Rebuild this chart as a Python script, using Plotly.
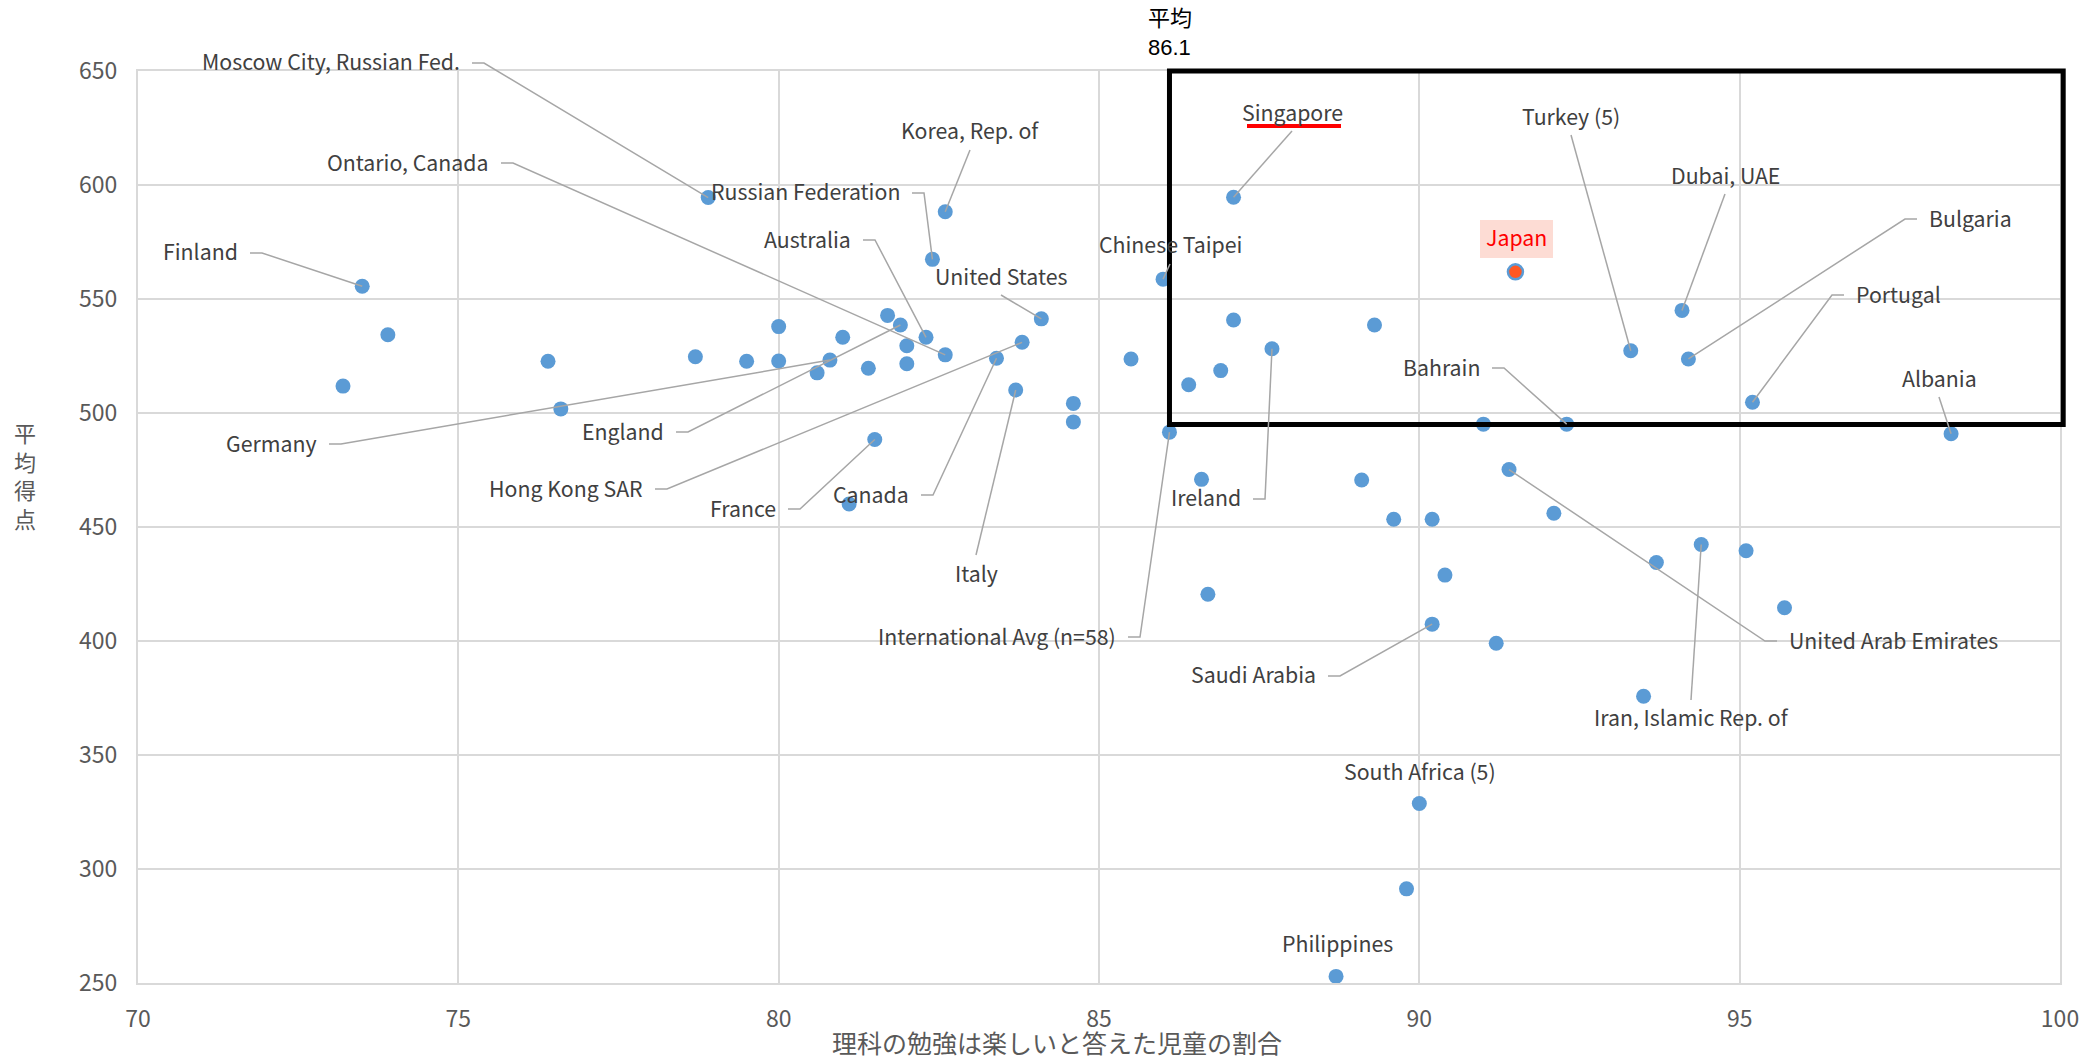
import plotly.graph_objects as go

# ---- data -------------------------------------------------------------
# share of pupils who enjoy science (%) and mean science score
enjoy_pct = [73.2, 73.5, 73.9, 76.4, 76.6, 78.7, 78.9, 79.5, 80.0, 80.0,
             80.6, 80.8, 81.0, 81.1, 81.4, 81.5, 81.7, 81.9, 82.0, 82.0,
             82.3, 82.4, 82.6, 82.6, 83.4, 83.7, 83.8, 84.1, 84.6, 84.6,
             85.5, 86.0, 86.1, 86.4, 86.6, 86.7, 86.9, 87.1, 87.1, 87.7,
             88.7, 89.1, 89.3, 89.6, 89.8, 90.0, 90.2, 90.2, 90.4, 91.0,
             91.2, 91.4, 91.5, 92.1, 92.3, 93.3, 93.5, 93.7, 94.1, 94.2,
             94.4, 95.1, 95.2, 95.7, 98.3]
mean_score = [511.8, 555.6, 534.3, 522.7, 501.8, 524.7, 594.5, 522.7, 537.9, 522.8,
              517.6, 523.2, 533.2, 460.1, 519.6, 488.4, 542.8, 538.6, 529.5, 521.6,
              533.2, 567.4, 588.3, 525.5, 524.0, 510.1, 531.0, 541.3, 504.2, 496.1,
              523.7, 558.7, 491.6, 512.4, 470.9, 420.5, 518.6, 594.6, 540.8, 528.2,
              252.9, 470.6, 538.6, 453.4, 291.3, 328.7, 453.4, 407.4, 428.9, 495.1,
              399.0, 475.2, 561.9, 456.0, 495.1, 527.3, 375.8, 434.4, 545.0, 523.7,
              442.3, 439.6, 504.7, 414.6, 490.9]
country = ["", "Finland", "", "", "", "", "Moscow City, Russian Fed.", "", "", "",
           "", "Germany", "", "", "", "France", "", "England", "", "",
           "Australia", "Russian Federation", "Korea, Rep. of", "Ontario, Canada", "Canada",
           "Italy", "Hong Kong SAR", "United States", "", "",
           "", "Chinese Taipei", "International Avg (n=58)", "", "", "", "", "Singapore", "", "Ireland",
           "Philippines", "", "", "", "", "South Africa (5)", "", "Saudi Arabia", "", "",
           "", "United Arab Emirates", "Japan", "", "Bahrain", "Turkey (5)", "", "", "Dubai, UAE", "Bulgaria",
           "Iran, Islamic Rep. of", "", "Portugal", "", "Albania"]

x_ticks = [70, 75, 80, 85, 90, 95, 100]
y_ticks = [250, 300, 350, 400, 450, 500, 550, 600, 650]
avg_enjoy = 86.1          # international average share
box_score = [495, 650]    # score band of the highlighted region
highlight = "Japan"

# ---- geometry ---------------------------------------------------------
W, H = 2100, 1059
PL, PT, PW, PH = 138, 71, 1922, 912
X0, X1, Y0, Y1 = x_ticks[0], x_ticks[-1], y_ticks[0], y_ticks[-1]


def to_px(x, y):
    return PL + (x - X0) / (X1 - X0) * PW, PT + (Y1 - y) / (Y1 - Y0) * PH


def paper(px, py):
    return (px - PL) / PW, (PT + PH - py) / PH


LABEL_FONT = "Noto Sans CJK JP, Noto Sans, sans-serif"
TEXT_COL = "#404040"
AXIS_COL = "#595959"
LEADER_COL = "#a6a6a6"

# label placement in page pixels: (x, y, anchor, leader)
#   anchor r/l/c = right edge / left edge / centre at x
#   leader "tick" = elbow leader, "up" = from below the label, "down" = from above
label_pos = {
    "Moscow City, Russian Fed.": (462, 63, "r", "tick"),
    "Ontario, Canada": (491, 163, "r", "tick"),
    "Finland": (240, 253, "r", "tick"),
    "Germany": (319, 444, "r", "tick"),
    "Russian Federation": (902, 193, "r", "tick"),
    "Australia": (853, 240, "r", "tick"),
    "England": (666, 432, "r", "tick"),
    "Hong Kong SAR": (645, 489, "r", "tick"),
    "France": (778, 509, "r", "tick"),
    "Canada": (911, 495, "r", "tick"),
    "International Avg (n=58)": (1118, 637, "r", "tick"),
    "Ireland": (1243, 499, "r", "tick"),
    "Bahrain": (1482, 368, "r", "tick"),
    "Saudi Arabia": (1318, 676, "r", "tick"),
    "Bulgaria": (1927, 219, "l", "tick"),
    "Portugal": (1854, 295, "l", "tick"),
    "United Arab Emirates": (1787, 641, "l", "tick"),
    "Korea, Rep. of": (970, 132, "c", "up"),
    "United States": (1001, 277, "c", "up"),
    "Singapore": (1292, 113, "c", "up"),
    "Turkey (5)": (1571, 117, "c", "up"),
    "Dubai, UAE": (1725, 176, "c", "up"),
    "Albania": (1939, 379, "c", "up"),
    "Chinese Taipei": (1170, 246, "c", "up"),
    "Italy": (976, 574, "c", "down"),
    "Iran, Islamic Rep. of": (1691, 719, "c", "down"),
    "South Africa (5)": (1420, 772, "c", None),
    "Philippines": (1337, 944, "c", None),
    "Japan": (1516, 239, "c", None),
}
TEXT_SHIFT = -2  # optical centring of the label text on its leader

# ---- markers ----------------------------------------------------------
fill = ["#ff5722" if c == highlight else "#5b9bd5" for c in country]
edge_w = [2.5 if c == highlight else 0 for c in country]

fig = go.Figure()
fig.add_trace(go.Scatter(
    x=enjoy_pct, y=mean_score, mode="markers",
    marker=dict(size=15, color=fill, line=dict(color="#5b9bd5", width=edge_w)),
    hovertext=country, showlegend=False, cliponaxis=False,
))

shapes = []
annotations = []

# background patch behind the highlighted label
hx, hy = label_pos[highlight][:2]
p0 = paper(hx - 36, hy + 19)
p1 = paper(hx + 37, hy - 19)
shapes.append(dict(type="rect", xref="paper", yref="paper",
                   x0=p0[0], y0=p0[1], x1=p1[0], y1=p1[1],
                   fillcolor="#fddcd4", line=dict(width=0), layer="above"))

# highlighted region
bx0, by0 = paper(*to_px(avg_enjoy, box_score[0]))
bx1, by1 = paper(*to_px(X1 + 0.05, box_score[1]))
shapes.append(dict(type="rect", xref="paper", yref="paper",
                   x0=bx0, x1=bx1, y0=by0, y1=by1,
                   line=dict(color="#000000", width=5), layer="above"))

# data labels with leader lines
anchor_map = {"r": "right", "l": "left", "c": "center"}
for name, (lx, ly, anc, leader) in label_pos.items():
    i = country.index(name)
    mx, my = to_px(enjoy_pct[i], mean_score[i])
    if leader == "tick":
        sgn = 1 if anc == "r" else -1
        pts = [(lx + sgn * 10, ly), (lx + sgn * 22, ly), (mx, my)]
    elif leader == "up":
        pts = [(lx, ly + 18), (mx, my)]
    elif leader == "down":
        pts = [(lx, ly - 19), (mx, my)]
    else:
        pts = None
    if pts:
        path = " ".join(("M" if k == 0 else "L") + " %.5f,%.5f" % paper(px, py)
                        for k, (px, py) in enumerate(pts))
        shapes.append(dict(type="path", xref="paper", yref="paper", path=path,
                           line=dict(color=LEADER_COL, width=1.5), layer="above"))
    ax, ay = paper(lx, ly + TEXT_SHIFT)
    is_hl = name == highlight
    annotations.append(dict(
        x=ax, y=ay, xref="paper", yref="paper", text=name, showarrow=False,
        xanchor=anchor_map[anc], yanchor="middle",
        font=dict(family=LABEL_FONT, size=21.3, color="#ff0000" if is_hl else TEXT_COL),
    ))

# red underline under Singapore
sx, sy = label_pos["Singapore"][:2]
u0 = paper(sx - 45, sy + 13)
u1 = paper(sx + 49, sy + 13)
shapes.append(dict(type="line", xref="paper", yref="paper",
                   x0=u0[0], y0=u0[1], x1=u1[0], y1=u1[1],
                   line=dict(color="#ff0000", width=4), layer="above"))

# average marker text above the box
tx, ty = paper(1146, 33)
annotations.append(dict(x=tx, y=ty, xref="paper", yref="paper",
                        text="平均<br>%.1f" % avg_enjoy, showarrow=False,
                        xanchor="left", yanchor="middle", align="left",
                        font=dict(family="Liberation Sans, Noto Sans CJK JP", size=22,
                                  color="#000000")))

# axis titles
cx, cy = paper(25, 475)
annotations.append(dict(x=cx, y=cy, xref="paper", yref="paper",
                        text="平<br>均<br>得<br>点", showarrow=False,
                        xanchor="center", yanchor="middle",
                        font=dict(family="Noto Sans CJK JP", size=22, color=AXIS_COL)))
xt, yt = paper(1057, 1042)
annotations.append(dict(x=xt, y=yt, xref="paper", yref="paper",
                        text="理科の勉強は楽しいと答えた児童の割合", showarrow=False,
                        xanchor="center", yanchor="middle",
                        font=dict(family="Noto Sans CJK JP", size=25, color=AXIS_COL)))
nx, ny = paper(2, 1051)
annotations.append(dict(x=nx, y=ny, xref="paper", yref="paper", text="[注]",
                        showarrow=False, xanchor="left", yanchor="top",
                        font=dict(family="Noto Sans CJK JP", size=22, color="#000000")))

grid = dict(showgrid=True, gridcolor="#d9d9d9", gridwidth=2, zeroline=False,
            showline=True, linecolor="#d9d9d9", linewidth=2, mirror=True,
            ticks="", tickfont=dict(family=LABEL_FONT, size=23, color=AXIS_COL))

fig.update_layout(
    width=W, height=H,
    margin=dict(l=PL, r=W - PL - PW, t=PT, b=H - PT - PH),
    paper_bgcolor="white", plot_bgcolor="white",
    xaxis=dict(range=[X0, X1], tickvals=x_ticks, ticklabelstandoff=14, **grid),
    yaxis=dict(range=[Y0, Y1], tickvals=y_ticks, ticklabelstandoff=14, **grid),
    shapes=shapes, annotations=annotations,
)

fig.write_html("out.html")
